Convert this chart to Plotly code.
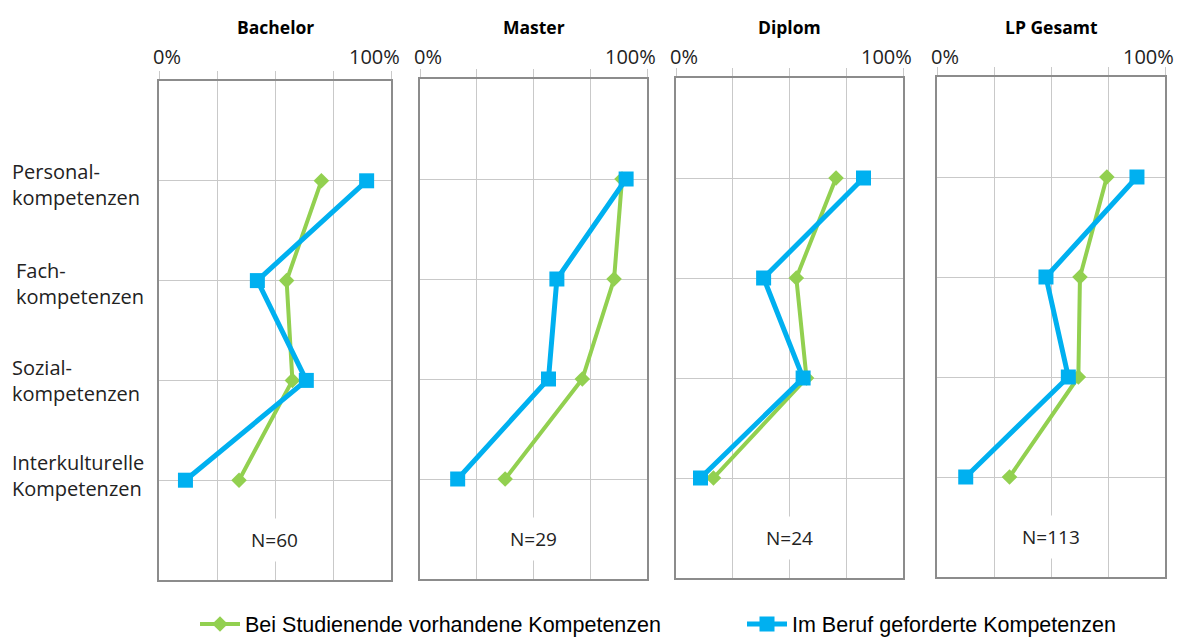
import plotly.graph_objects as go

# Panels, row labels and sample sizes
panels = ["Bachelor", "Master", "Diplom", "LP Gesamt"]
sample_sizes = ["N=60", "N=29", "N=24", "N=113"]
categories = [
    "Personal-<br>kompetenzen",
    "Fach-<br>kompetenzen",
    "Sozial-<br>kompetenzen",
    "Interkulturelle<br>Kompetenzen",
]
series_names = ["Bei Studienende vorhandene Kompetenzen", "Im Beruf geforderte Kompetenzen"]

# Share of respondents (0..1), one value per row
vorhanden_bachelor = [0.70, 0.55, 0.575, 0.345]
vorhanden_master = [0.89, 0.855, 0.715, 0.375]
vorhanden_diplom = [0.705, 0.53, 0.575, 0.165]
vorhanden_gesamt = [0.745, 0.627, 0.62, 0.318]

gefordert_bachelor = [0.895, 0.424, 0.635, 0.114]
gefordert_master = [0.908, 0.603, 0.566, 0.166]
gefordert_diplom = [0.826, 0.386, 0.56, 0.108]
gefordert_gesamt = [0.877, 0.478, 0.576, 0.126]

vorhanden = [vorhanden_bachelor, vorhanden_master, vorhanden_diplom, vorhanden_gesamt]
gefordert = [gefordert_bachelor, gefordert_master, gefordert_diplom, gefordert_gesamt]

W, H = 1182, 640
# plot-area boxes in pixels: left, right, top, bottom
boxes = [
    (159, 391, 81, 580),
    (420, 647, 79, 579),
    (676, 903, 78, 578),
    (937, 1165, 77, 577),
]

GREEN = "#92D050"
BLUE = "#00B0F0"
GRID = "#C9C9C9"
FRAME = "#8C8C8C"
FONT = "Open Sans"

rows = list(range(len(categories)))

fig = go.Figure()
annotations = []

for i, (name, box) in enumerate(zip(panels, boxes)):
    l, r, t, b = box
    sfx = "" if i == 0 else str(i + 1)
    xa, ya = "x" + sfx, "y" + sfx

    fig.add_trace(go.Scatter(
        x=vorhanden[i], y=rows, xaxis=xa, yaxis=ya,
        mode="lines+markers", name=series_names[0], legendgroup="v",
        showlegend=(i == 0),
        line=dict(color=GREEN, width=4),
        marker=dict(symbol="diamond", size=12, color=GREEN),
    ))
    fig.add_trace(go.Scatter(
        x=gefordert[i], y=rows, xaxis=xa, yaxis=ya,
        mode="lines+markers", name=series_names[1], legendgroup="g",
        showlegend=(i == 0),
        line=dict(color=BLUE, width=5),
        marker=dict(symbol="square", size=15, color=BLUE),
    ))

    fig.layout["xaxis" + sfx] = dict(
        domain=[l / W, r / W], anchor=ya, side="top", range=[0, 1],
        tickvals=[0, 0.25, 0.5, 0.75, 1], showticklabels=False,
        ticks="outside", ticklen=8, tickcolor=GRID, tickwidth=1,
        showgrid=True, gridcolor=GRID, gridwidth=1, zeroline=False,
        showline=True, mirror=True, linecolor=FRAME, linewidth=2,
        fixedrange=True,
    )
    fig.layout["yaxis" + sfx] = dict(
        domain=[1 - b / H, 1 - t / H], anchor=xa, range=[4, -1],
        tickvals=rows, showticklabels=False, ticks="",
        showgrid=True, gridcolor=GRID, gridwidth=1, zeroline=False,
        showline=True, mirror=True, linecolor=FRAME, linewidth=2,
        fixedrange=True,
    )

    # panel title
    annotations.append(dict(
        text="<b>" + name + "</b>", xref="paper", yref="paper",
        x=(l + r) / 2 / W, y=1 - 27 / H, xanchor="center", yanchor="middle",
        showarrow=False, font=dict(family=FONT, size=17.5, color="black"),
    ))
    # axis end labels
    annotations.append(dict(
        text="0%", xref=xa, yref="paper", x=0, y=1 - 56 / H,
        xanchor="left", yanchor="middle", xshift=-8, showarrow=False,
        font=dict(family=FONT, size=20, color="#222"),
    ))
    annotations.append(dict(
        text="100%", xref=xa, yref="paper", x=1, y=1 - 56 / H,
        xanchor="right", yanchor="middle", xshift=11, showarrow=False,
        font=dict(family=FONT, size=20, color="#222"),
    ))
    # sample size
    annotations.append(dict(
        text=sample_sizes[i], xref=xa + " domain", yref=ya, x=0.5, y=3.6,
        xanchor="center", yanchor="middle", showarrow=False,
        bgcolor="white", borderpad=8,
        font=dict(family=FONT, size=19, color="#222"),
    ))

# row labels on the left
label_x = [10, 14, 10, 10]
label_shift = [-4, -3, 0, 5]
for k, cat in enumerate(categories):
    annotations.append(dict(
        text=cat, xref="paper", yref="y", x=label_x[k] / W, y=k,
        yshift=label_shift[k],
        xanchor="left", yanchor="middle", align="left", showarrow=False,
        font=dict(family=FONT, size=20, color="#222"),
    ))

fig.update_layout(
    width=W, height=H,
    margin=dict(l=0, r=0, t=0, b=0, autoexpand=False),
    paper_bgcolor="white", plot_bgcolor="white",
    annotations=annotations,
    showlegend=True,
    legend=dict(
        orientation="h", xref="paper", yref="paper",
        x=195 / W, y=1 - 624 / H, xanchor="left", yanchor="middle",
        entrywidth=492, entrywidthmode="pixels", itemwidth=40,
        font=dict(family="Liberation Sans", size=21.5, color="black"),
        bgcolor="rgba(0,0,0,0)",
    ),
)

fig.write_html("out.html")
